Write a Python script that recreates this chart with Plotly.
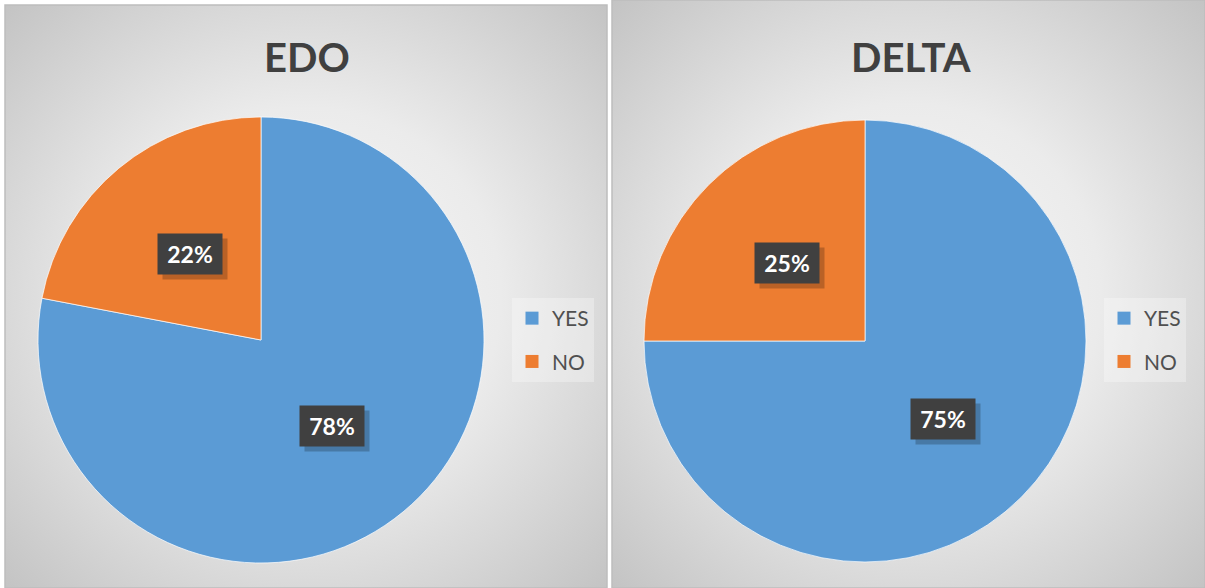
import base64
import math
import plotly.graph_objects as go

# data
labels = ['YES', 'NO']
edo_values = [78, 22]
delta_values = [75, 25]
panel_titles = ['EDO', 'DELTA']
slice_colors = ['#5B9BD5', '#ED7D31']

W, H = 1205, 588
FONT = 'Lato, "Open Sans", sans-serif'


def bg_image():
    svg = ("<svg xmlns='http://www.w3.org/2000/svg' width='600' height='588' preserveAspectRatio='none'>"
           "<defs><radialGradient id='g' cx='50%' cy='50%' r='72%'>"
           "<stop offset='0' stop-color='#f8f8f8'/><stop offset='0.45' stop-color='#ebebeb'/>"
           "<stop offset='1' stop-color='#c2c2c2'/></radialGradient></defs>"
           "<rect width='100%' height='100%' fill='url(#g)'/></svg>")
    return 'data:image/svg+xml;base64,' + base64.b64encode(svg.encode()).decode()


# panel boxes and pie geometry in pixels (left, top, right, bottom) / (cx, cy, r)
panels = [(5, 5, 607, 588), (612, 0, 1205, 588)]
pies = [(261, 340, 223), (865, 341, 221)]
title_x = [307, 911]
legend_x = [512, 1104]

fig = go.Figure()
annotations = []
shapes = []
images = []

for i, (values, title) in enumerate(zip([edo_values, delta_values], panel_titles)):
    cx, cy, r = pies[i]
    fig.add_trace(go.Pie(
        labels=labels, values=values, sort=False, direction='clockwise', rotation=0,
        marker=dict(colors=slice_colors, line=dict(color='rgba(255,255,255,0.7)', width=1)),
        textinfo='none', hoverinfo='label+percent', showlegend=False,
        domain=dict(x=[(cx - r) / W, (cx + r) / W], y=[(H - cy - r) / H, (H - cy + r) / H]),
    ))

    # percentage labels placed at half radius on each slice's mid angle
    total = sum(values)
    start = 0.0
    for v in values:
        mid = (start + v / 2) / total * 2 * math.pi
        start += v
        px = cx + 0.5 * r * math.sin(mid)
        py = cy - 0.5 * r * math.cos(mid)
        pct = f'{round(100 * v / total)}%'
        for shadow in (True, False):
            annotations.append(dict(
                x=px / W, y=(H - py) / H, xref='paper', yref='paper',
                xanchor='center', yanchor='middle',
                text='' if shadow else f'<b>{pct}</b>', showarrow=False,
                font=dict(family=FONT, size=23, color='white'),
                bgcolor='rgba(0,0,0,0.22)' if shadow else '#404040',
                width=64, height=40, borderpad=0,
                xshift=5 if shadow else 0, yshift=-5 if shadow else 0,
            ))

    annotations.append(dict(
        x=title_x[i] / W, y=(H - 57) / H, xref='paper', yref='paper',
        xanchor='center', yanchor='middle',
        text=f'<b>{title}</b>', showarrow=False,
        font=dict(family=FONT, size=40, color='#404040'),
    ))

    x0, y0, x1, y1 = panels[i]
    images.append(dict(
        source=bg_image(), xref='paper', yref='paper', x=x0 / W, y=1 - y0 / H,
        sizex=(x1 - x0) / W, sizey=(y1 - y0) / H, xanchor='left', yanchor='top',
        sizing='stretch', layer='below',
    ))
    shapes.append(dict(type='rect', xref='paper', yref='paper',
                       x0=x0 / W, x1=x1 / W, y0=1 - y1 / H, y1=1 - y0 / H,
                       line=dict(color='#bdbdbd', width=1.5), layer='below'))

# legend entries: one marker-only trace per label and per panel
for i in range(2):
    legend_name = 'legend' if i == 0 else 'legend2'
    for lab, col in zip(labels, slice_colors):
        fig.add_trace(go.Scatter(
            x=[None], y=[None], mode='markers', name=lab,
            marker=dict(symbol='square', size=13, color=col),
            legend=legend_name, legendgroup=f'{legend_name}-{lab}', showlegend=True,
        ))

legend_style = dict(
    yanchor='middle', y=(H - 340) / H, xanchor='left',
    bgcolor='rgba(255,255,255,0.3)', font=dict(family=FONT, size=21, color='#505050'),
    tracegroupgap=13, itemclick=False, itemdoubleclick=False,
)

fig.update_layout(
    width=W, height=H,
    margin=dict(l=0, r=0, t=0, b=0),
    paper_bgcolor='white', plot_bgcolor='rgba(0,0,0,0)',
    xaxis=dict(visible=False), yaxis=dict(visible=False),
    legend=dict(x=legend_x[0] / W, **legend_style),
    legend2=dict(x=legend_x[1] / W, **legend_style),
    annotations=annotations, shapes=shapes, images=images,
    font=dict(family=FONT),
)

fig.write_html('out.html', config={'displayModeBar': False},
               post_script="document.body.style.margin='0';")
